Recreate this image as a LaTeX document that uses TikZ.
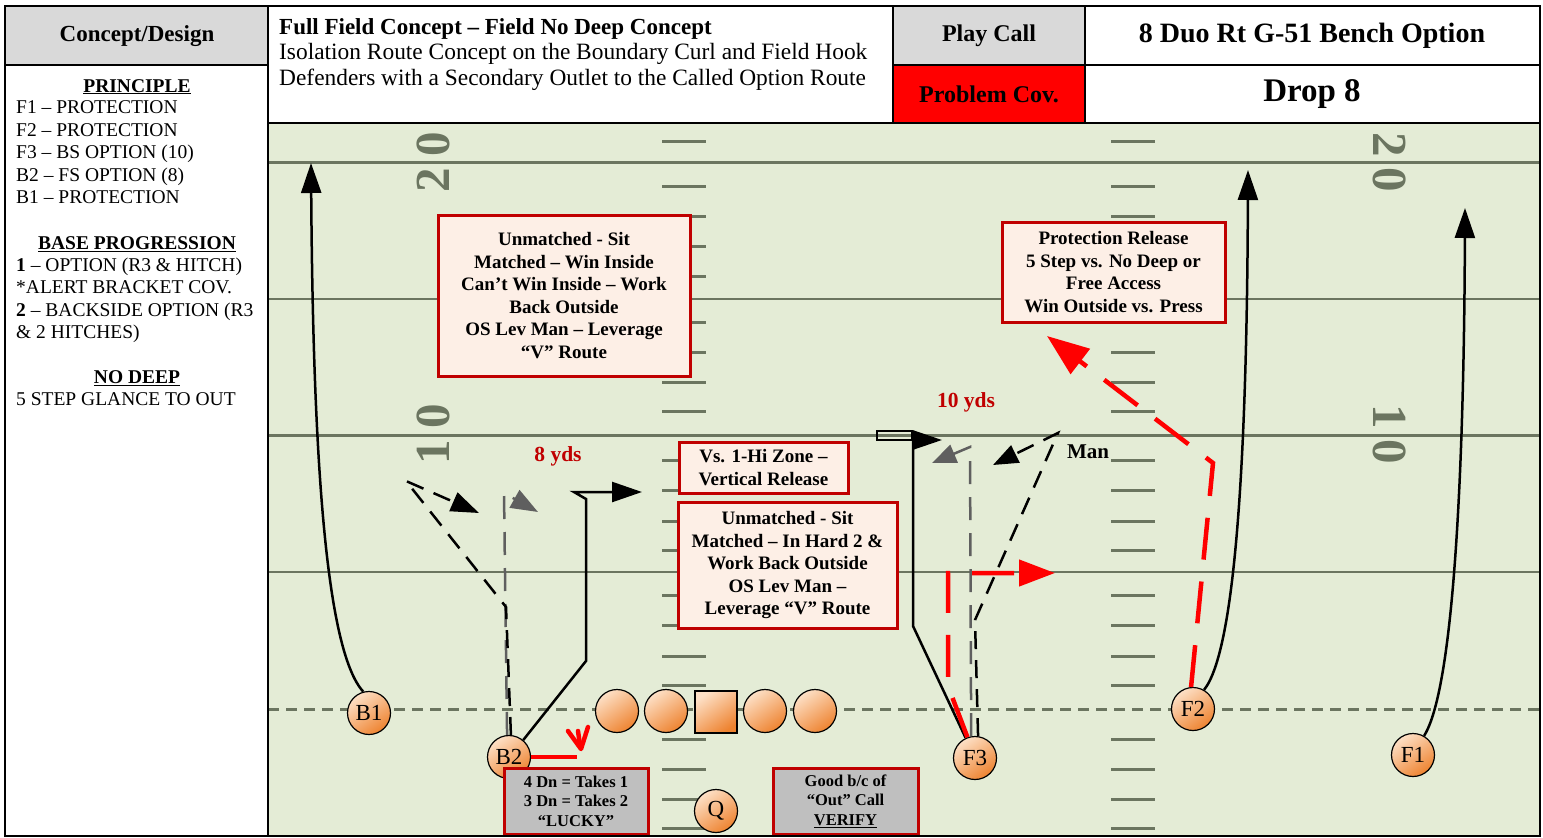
\documentclass[tikz,border=0pt]{standalone}
\usepackage{fontspec}
\setmainfont{Liberation Serif}
\usetikzlibrary{arrows.meta}
\definecolor{fieldgreen}{HTML}{E4ECD6}
\definecolor{linegreen}{HTML}{6B7560}
\definecolor{boxred}{HTML}{C00000}
\definecolor{boxfill}{HTML}{FDEFE6}
\definecolor{hdrgray}{HTML}{D9D9D9}
\definecolor{gboxfill}{HTML}{BFBFBF}
\definecolor{routegray}{HTML}{5F5F5F}
\definecolor{plight}{HTML}{FDE0C6}
\definecolor{pdark}{HTML}{EE8330}
\definecolor{brightred}{HTML}{FF0000}
\newcommand{\setfs}[2]{\fontsize{#1}{#2}\selectfont}
\begin{document}
\begin{tikzpicture}[x=1pt,y=-1pt,
  frameline/.style={draw=black,line width=2pt},
  tenline/.style={draw=linegreen,line width=3pt},
  fiveline/.style={draw=linegreen,line width=2pt},
  hashmark/.style={draw=linegreen,line width=3pt},
  losline/.style={draw=linegreen,line width=3pt,dash pattern=on 11pt off 7pt},
  yardnum/.style={text=linegreen,font=\setfs{49}{49}\bfseries,inner sep=0pt},
  notebox/.style={draw=boxred,line width=3pt,fill=boxfill,align=center,inner sep=0pt,font=\setfs{19}{22.5}\bfseries},
  graybox/.style={draw=boxred,line width=3pt,fill=gboxfill,align=center,inner sep=0pt,font=\setfs{16.5}{19.5}\bfseries},
  player/.style={circle,draw=black,line width=1.2pt,minimum size=43pt,inner sep=0pt,top color=plight,bottom color=pdark,shading angle=35,font=\setfs{23}{23}},
  hdrtext/.style={inner sep=0pt,font=\setfs{24}{24}\bfseries},
  paneltext/.style={anchor=base west,inner sep=0pt,font=\setfs{19.5}{19.5}},
  panelhead/.style={anchor=base,inner sep=0pt,font=\setfs{19.5}{19.5}\bfseries},
  desctext/.style={anchor=base west,inner sep=0pt,font=\setfs{23.4}{23.4}},
  route/.style={draw=black,line width=2.5pt},
  dashroute/.style={draw=black,line width=2.5pt,dash pattern=on 18pt off 11pt},
  grayroute/.style={draw=routegray,line width=2.5pt,dash pattern=on 23pt off 13pt},
  redroute/.style={draw=brightred,line width=4.5pt,dash pattern=on 42pt off 22pt},
  redsolid/.style={draw=brightred,line width=4.5pt},
  redlabel/.style={text=boxred,font=\setfs{21.5}{21.5}\bfseries,inner sep=0pt}
]
\useasboundingbox (0,0) rectangle (1543,838);
\fill[white] (0,0) rectangle (1543,838);
% field
\fill[fieldgreen] (268,123) rectangle (1540,836);
\draw[tenline] (268,162) -- (1540,162);
\draw[fiveline] (268,298.5) -- (1540,298.5);
\draw[tenline] (268,435) -- (1540,435);
\draw[fiveline] (268,572) -- (1540,572);
\foreach \yy in {141,186,216,246,276,322,352,382,411,460,490,521,550,595,625,656,685,739,769,799,828}{
  \draw[hashmark] (662,\yy) -- (706,\yy);
  \draw[hashmark] (1111,\yy) -- (1155,\yy);
}
\node[yardnum,rotate=90] (n20l) at (433,162) {2\hspace{11pt}0};
\node[yardnum,rotate=90] (n10l) at (433,434) {1\hspace{11pt}0};
\node[yardnum,rotate=-90] (n20r) at (1390,162) {2\hspace{11pt}0};
\node[yardnum,rotate=-90] (n10r) at (1390,434) {1\hspace{11pt}0};
\draw[losline] (268,709) -- (1540,709);
% players
\node[player] (B1) at (369,713) {B1};
\node[player] (B2) at (509,757) {B2};
\node[player] (OL1) at (617,711) {};
\node[player] (OL2) at (666,711) {};
\node[player,rectangle,minimum size=42pt] (OC) at (716,712) {};
\node[player] (OL3) at (765,711) {};
\node[player] (OL4) at (815,711) {};
\node[player] (Q) at (716,811) {Q};
\node[player] (F3) at (975,758) {F3};
\node[player] (F2) at (1193,709) {F2};
\node[player] (F1) at (1413,755) {F1};
% routes
\coordinate (B1end) at (311,163);
\draw[route,-{Triangle[length=30pt,width=20pt]}] (B1.105) .. controls (325,650) and (313,450) .. (B1end);
\coordinate (F2end) at (1248,170);
\draw[route,-{Triangle[length=30pt,width=20pt]}] (F2.60) .. controls (1236,650) and (1247,450) .. (F2end);
\coordinate (F1end) at (1465,208);
\draw[route,-{Triangle[length=30pt,width=20pt]}] (F1.60) .. controls (1453,690) and (1464,480) .. (F1end);
\coordinate (B2out) at (642,492);
\draw[route,-{Triangle[length=30pt,width=20pt]}] (B2.50) -- (586,661) -- (586,499) -- (574,492) -- (B2out);
\coordinate (B2gray) at (538,512);
\draw[grayroute,-{Triangle[length=27pt,width=20pt]}] (B2.95) -- (504,493) -- (B2gray);
\coordinate (B2dash) at (479,513);
\draw[dashroute,-{Triangle[length=28pt,width=20pt]}] (B2.85) -- (506,607) -- (406,481) -- (B2dash);
\coordinate (B2red) at (577,757);
\draw[redsolid] (B2.east) -- (B2red);
\draw[redsolid,line cap=round,line join=round] (568,731) -- (581,749) -- (588,727);
\draw[redsolid,line cap=round] (578,731) -- (580,745);
\coordinate (F3top) at (913,432);
\draw[route] (F3.115) -- (913,626) -- (F3top);
\draw[draw=black,line width=2pt] (877,431) rectangle (912,440);
\coordinate (F3corner) at (913,440);
\coordinate (F3flag) at (942,440);
\draw[route,-{Triangle[length=29pt,width=19pt]}] (F3corner) -- (F3flag);
\coordinate (F3gray) at (932,463);
\draw[grayroute,-{Triangle[length=24pt,width=19pt]}] (F3.100) -- (970,447) -- (F3gray);
\coordinate (F3man) at (993,465);
\draw[dashroute,-{Triangle[length=25pt,width=19pt]}] (F3.82) -- (975,620) -- (1058,433) -- (F3man);
\coordinate (F3out) at (1055,573);
\draw[redroute,-{Triangle[length=36pt,width=26pt]}] (F3.110) -- (948,686) -- (948,573) -- (F3out);
\coordinate (F2rel) at (1047,336);
\draw[redroute,-{Triangle[length=42pt,width=31pt]}] (F2.95) -- (1213,463) -- (F2rel);
% boxes
\node[notebox,minimum width=252pt,minimum height=161pt] (note1) at (564,295.5) {Unmatched - Sit\\Matched – Win Inside\\Can’t Win Inside – Work\\Back Outside\\OS Lev Man – Leverage\\“V” Route};
\node[notebox,minimum width=169pt,minimum height=51pt] (note2) at (763.5,467.5) {Vs. 1-Hi Zone –\\Vertical Release};
\node[notebox,minimum width=219pt,minimum height=126pt] (note3) at (787.5,565) {Unmatched - Sit\\Matched – In Hard 2 \&\\Work Back Outside\\OS Lev Man –\\Leverage “V” Route};
\node[notebox,minimum width=223pt,minimum height=100pt] (note4) at (1113.5,272) {Protection Release\\5 Step vs. No Deep or\\Free Access\\Win Outside vs. Press};
\node[graybox,minimum width=144pt,minimum height=66pt] (lucky) at (576,801) {4 Dn = Takes 1\\3 Dn = Takes 2\\“LUCKY”};
\node[graybox,minimum width=145pt,minimum height=66pt] (verify) at (845.5,801) {Good b/c of\\“Out” Call\\\underline{VERIFY}};
% labels
\node[redlabel] (yds8) at (558,456) {8 yds};
\node[redlabel] (yds10) at (966,402) {10 yds};
\node[inner sep=0pt,font=\setfs{21}{21}\bfseries] (man) at (1088,452) {Man};
% header
\fill[hdrgray] (5,6) rectangle (268,65);
\fill[hdrgray] (893,6) rectangle (1085,65);
\fill[brightred] (893,65) rectangle (1085,123);
\node[hdrtext,font=\setfs{23}{23}\bfseries] (concept) at (137,36) {Concept/Design};
\node[desctext,font=\setfs{23}{23}\bfseries] (desc1) at (279,34.5) {Full Field Concept – Field No Deep Concept};
\node[desctext] (desc2) at (279,59) {Isolation Route Concept on the Boundary Curl and Field Hook};
\node[desctext] (desc3) at (279,85) {Defenders with a Secondary Outlet to the Called Option Route};
\node[hdrtext] (playcall) at (989,36) {Play Call};
\node[hdrtext,font=\setfs{28}{28}\bfseries] (callname) at (1312,36) {8 Duo Rt G-51 Bench Option};
\node[hdrtext] (probcov) at (989,94) {Problem Cov.};
\node[hdrtext,font=\setfs{33}{33}\bfseries] (drop) at (1312,94) {Drop 8};
% left panel
\node[panelhead] (ph1) at (137,92) {\underline{PRINCIPLE}};
\node[paneltext] (p1) at (16,113.5) {F1 – PROTECTION};
\node[paneltext] (p2) at (16,136) {F2 – PROTECTION};
\node[paneltext] (p3) at (16,158.5) {F3 – BS OPTION (10)};
\node[paneltext] (p4) at (16,181) {B2 – FS OPTION (8)};
\node[paneltext] (p5) at (16,203.5) {B1 – PROTECTION};
\node[panelhead] (ph2) at (137,249.5) {\underline{BASE PROGRESSION}};
\node[paneltext] (p6) at (16,271.5) {\textbf{1} – OPTION (R3 \& HITCH)};
\node[paneltext] (p7) at (16,293.5) {*ALERT BRACKET COV.};
\node[paneltext] (p8) at (16,316) {\textbf{2} – BACKSIDE OPTION (R3};
\node[paneltext] (p9) at (16,338.5) {\& 2 HITCHES)};
\node[panelhead] (ph3) at (137,383.5) {\underline{NO DEEP}};
\node[paneltext] (p10) at (16,405.5) {5 STEP GLANCE TO OUT};
% frame
\draw[frameline] (5,6) rectangle (1540,836);
\draw[frameline] (268,6) -- (268,836);
\draw[frameline] (5,65) -- (268,65);
\draw[frameline] (893,65) -- (1540,65);
\draw[frameline] (268,123) -- (1540,123);
\draw[frameline] (893,6) -- (893,123);
\draw[frameline] (1085,6) -- (1085,123);
\end{tikzpicture}
\end{document}
